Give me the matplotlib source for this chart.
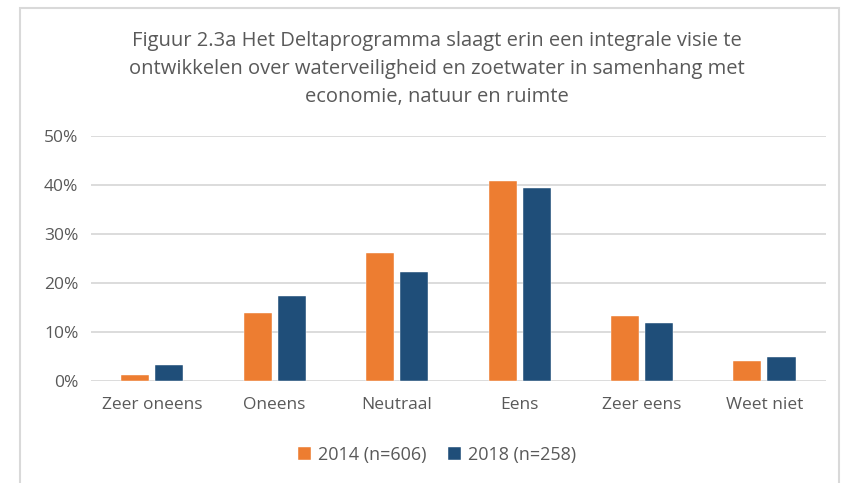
import matplotlib
matplotlib.use("Agg")
import matplotlib.pyplot as plt
from matplotlib.patches import Rectangle
from matplotlib.ticker import PercentFormatter
import numpy as np

categories = ["Zeer oneens", "Oneens", "Neutraal", "Eens", "Zeer eens", "Weet niet"]
series_names = ["2014 (n=606)", "2018 (n=258)"]
values_2014 = [1.2, 13.9, 26.1, 40.8, 13.2, 4.0]
values_2018 = [3.3, 17.3, 22.3, 39.5, 11.9, 4.9]
y_ticks = [0, 10, 20, 30, 40, 50]
title = ("Figuur 2.3a Het Deltaprogramma slaagt erin een integrale visie te\n"
         "ontwikkelen over waterveiligheid en zoetwater in samenhang met\n"
         "economie, natuur en ruimte")

orange = "#ED7D31"
blue = "#1F4E79"
text_col = "#595959"
grid_col = "#D9D9D9"
font = "Open Sans"

fig = plt.figure(figsize=(8.54, 4.83), dpi=100)
ax = fig.add_axes([91/854, 1-380.7/483, (825.7-91)/854, (380.7-136.3)/483])

x = np.arange(len(categories))
w = 0.229
off = 0.139
ax.bar(x - off, values_2014, w, color=orange, edgecolor="white", linewidth=0.3, label=series_names[0], zorder=3)
ax.bar(x + off, values_2018, w, color=blue, edgecolor="white", linewidth=0.3, label=series_names[1], zorder=3)

ax.set_xlim(-0.5, len(categories) - 0.5)
ax.set_ylim(0, 50)
ax.set_yticks(y_ticks)
ax.yaxis.set_major_formatter(PercentFormatter(decimals=0))
ax.set_xticks(x)
ax.set_xticklabels(categories)
ax.grid(axis="y", color=grid_col, linewidth=1.3, zorder=0)
for s in ax.spines.values():
    s.set_visible(False)
ax.tick_params(length=0, labelsize=12.5, labelcolor=text_col, pad=9)
ax.tick_params(axis="x", pad=12)
for lab in ax.get_xticklabels() + ax.get_yticklabels():
    lab.set_fontfamily(font)

fig.text(437/854, 1-69/483, title, ha="center", va="center", fontsize=14.5, color=text_col,
         family=font, linespacing=1.55)

leg = fig.legend(loc="center", bbox_to_anchor=(437/854, 1-455/483), ncol=2, frameon=False,
                 prop={"family": font, "size": 13}, handlelength=0.7, handleheight=0.7,
                 handletextpad=0.4, columnspacing=1.2)
for t in leg.get_texts():
    t.set_color(text_col)

fig.patches.append(Rectangle((20/854, -0.02), (839-20)/854, 1-8/483+0.02, transform=fig.transFigure,
                             fill=False, edgecolor=grid_col, linewidth=1.5))

fig.savefig("out.png", dpi=100)
